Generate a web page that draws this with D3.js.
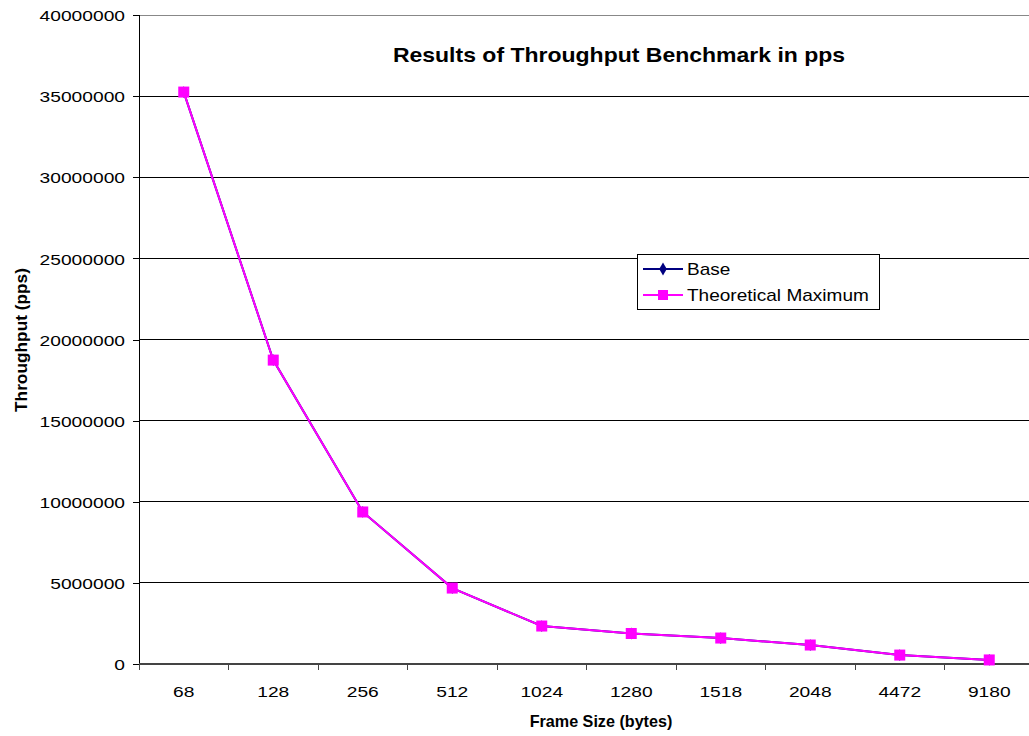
<!DOCTYPE html>
<html>
<head>
<meta charset="utf-8">
<script src="https://cdn.jsdelivr.net/npm/d3@7"></script>
<style>
  body { margin: 0; background: #fff; }
  svg { display: block; font-family: "Liberation Sans", Arial, sans-serif; }
</style>
</head>
<body>
<div id="chart"></div>
<script>
const width = 1029, height = 736;

const frameSizes = ["68", "128", "256", "512", "1024", "1280", "1518", "2048", "4472", "9180"];
const baseValues = [35250000, 18730000, 9370000, 4680000, 2340000, 1880000, 1600000, 1170000, 550000, 250000];
const theoreticalMax = [35250000, 18730000, 9370000, 4680000, 2340000, 1880000, 1600000, 1170000, 550000, 250000];
const yTicks = [0, 5000000, 10000000, 15000000, 20000000, 25000000, 30000000, 35000000, 40000000];

const plot = { left: 139, top: 15, right: 1034, bottom: 664 };

let svg = d3.select("#chart")
  .append("svg")
  .attr("width", width)
  .attr("height", height);

// the reference text is drawn a little wider than the font, stretch horizontally
function stretch(sel, k) {
  sel.each(function() {
    let t = d3.select(this);
    let x = +t.attr("x") || 0, y = +t.attr("y") || 0;
    t.attr("x", 0).attr("y", 0)
      .attr("transform", `translate(${x},${y}) scale(${k},1)`);
  });
}

let x = d3.scaleBand()
  .domain(frameSizes)
  .range([plot.left, plot.right]);

let y = d3.scaleLinear()
  .domain([0, 40000000])
  .range([plot.bottom, plot.top]);

// gridlines
svg.append("g").selectAll("line")
  .data(yTicks.filter(d => d > 0))
  .enter().append("line")
  .attr("x1", plot.left).attr("x2", width)
  .attr("y1", d => y(d)).attr("y2", d => y(d))
  .attr("stroke", d => d == 40000000 ? "#888" : "#000")
  .attr("stroke-width", 1)
  .attr("shape-rendering", "crispEdges");

// y axis
let yAxis = svg.append("g")
  .attr("transform", `translate(${plot.left},0)`)
  .call(d3.axisLeft(y).tickValues(yTicks).tickSize(6).tickFormat(d3.format("d")));
yAxis.select(".domain").attr("stroke", "#000").attr("shape-rendering", "crispEdges");
yAxis.selectAll(".tick line").attr("stroke", "#000").attr("shape-rendering", "crispEdges");
yAxis.selectAll(".tick text")
  .attr("x", -14).attr("y", 0).attr("dy", "0.37em")
  .attr("font-size", 15.5).attr("fill", "#000")
  .attr("font-family", "Liberation Sans, Arial, sans-serif")
  .call(stretch, 1.24);

// x axis, ticks between categories
let xAxis = svg.append("g")
  .attr("transform", `translate(0,${plot.bottom})`);
xAxis.append("line")
  .attr("x1", plot.left).attr("x2", width)
  .attr("y1", 0).attr("y2", 0)
  .attr("stroke", "#444").attr("stroke-width", 2);
xAxis.selectAll(".tk")
  .data(frameSizes)
  .enter().append("line")
  .attr("class", "tk")
  .attr("x1", d => x(d)).attr("x2", d => x(d))
  .attr("y1", 0).attr("y2", 6)
  .attr("stroke", "#444")
  .attr("shape-rendering", "crispEdges");
xAxis.selectAll("text")
  .data(frameSizes)
  .enter().append("text")
  .attr("x", d => x(d) + x.bandwidth() / 2)
  .attr("y", 33)
  .attr("text-anchor", "middle")
  .attr("font-size", 15.5)
  .text(d => d)
  .call(stretch, 1.24);

// series
let line = d3.line()
  .x((d, i) => x(frameSizes[i]) + x.bandwidth() / 2)
  .y(d => y(d));

svg.append("path")
  .datum(baseValues)
  .attr("d", line)
  .attr("fill", "none")
  .attr("stroke", "#000080")
  .attr("stroke-width", 2);

svg.append("g").selectAll("path")
  .data(baseValues)
  .enter().append("path")
  .attr("d", d3.symbol(d3.symbolDiamond, 40))
  .attr("transform", (d, i) => `translate(${x(frameSizes[i]) + x.bandwidth() / 2},${y(d)})`)
  .attr("fill", "#000080");

svg.append("path")
  .datum(theoreticalMax)
  .attr("d", line)
  .attr("fill", "none")
  .attr("stroke", "#FF00FF")
  .attr("stroke-width", 2);

svg.append("g").selectAll("rect")
  .data(theoreticalMax)
  .enter().append("rect")
  .attr("x", (d, i) => x(frameSizes[i]) + x.bandwidth() / 2 - 5.5)
  .attr("y", d => y(d) - 5.5)
  .attr("width", 11).attr("height", 11)
  .attr("fill", "#FF00FF");

// title
svg.append("text")
  .attr("x", 619).attr("y", 62)
  .attr("text-anchor", "middle")
  .attr("font-size", 19.5).attr("font-weight", "bold")
  .text("Results of Throughput Benchmark in pps")
  .call(stretch, 1.18);

// axis titles
svg.append("text")
  .attr("x", 601).attr("y", 727)
  .attr("text-anchor", "middle")
  .attr("font-size", 17).attr("font-weight", "bold")
  .text("Frame Size (bytes)")
  .call(stretch, 0.95);

svg.append("text")
  .attr("transform", "translate(27,340) rotate(-90)")
  .attr("text-anchor", "middle")
  .attr("font-size", 17.3).attr("font-weight", "bold")
  .text("Throughput (pps)");

// legend
let legend = svg.append("g").attr("transform", "translate(637,254)");
legend.append("rect")
  .attr("width", 242).attr("height", 55)
  .attr("fill", "#fff").attr("stroke", "#000")
  .attr("shape-rendering", "crispEdges");

let legendItems = [
  { name: "Base", color: "#000080", shape: "diamond" },
  { name: "Theoretical Maximum", color: "#FF00FF", shape: "square" }
];

let li = legend.selectAll(".item")
  .data(legendItems)
  .enter().append("g")
  .attr("class", "item")
  .attr("transform", (d, i) => `translate(0,${15 + i * 26})`);
li.append("line")
  .attr("x1", 6).attr("x2", 46)
  .attr("stroke", d => d.color).attr("stroke-width", 2);
li.append("path")
  .attr("d", d => d.shape == "diamond" ? d3.symbol(d3.symbolDiamond, 50)() : d3.symbol(d3.symbolSquare, 100)())
  .attr("transform", "translate(26,0)")
  .attr("fill", d => d.color);
li.append("text")
  .attr("x", 50).attr("y", 6)
  .attr("font-size", 17)
  .text(d => d.name)
  .call(stretch, 1.12);
</script>
</body>
</html>
